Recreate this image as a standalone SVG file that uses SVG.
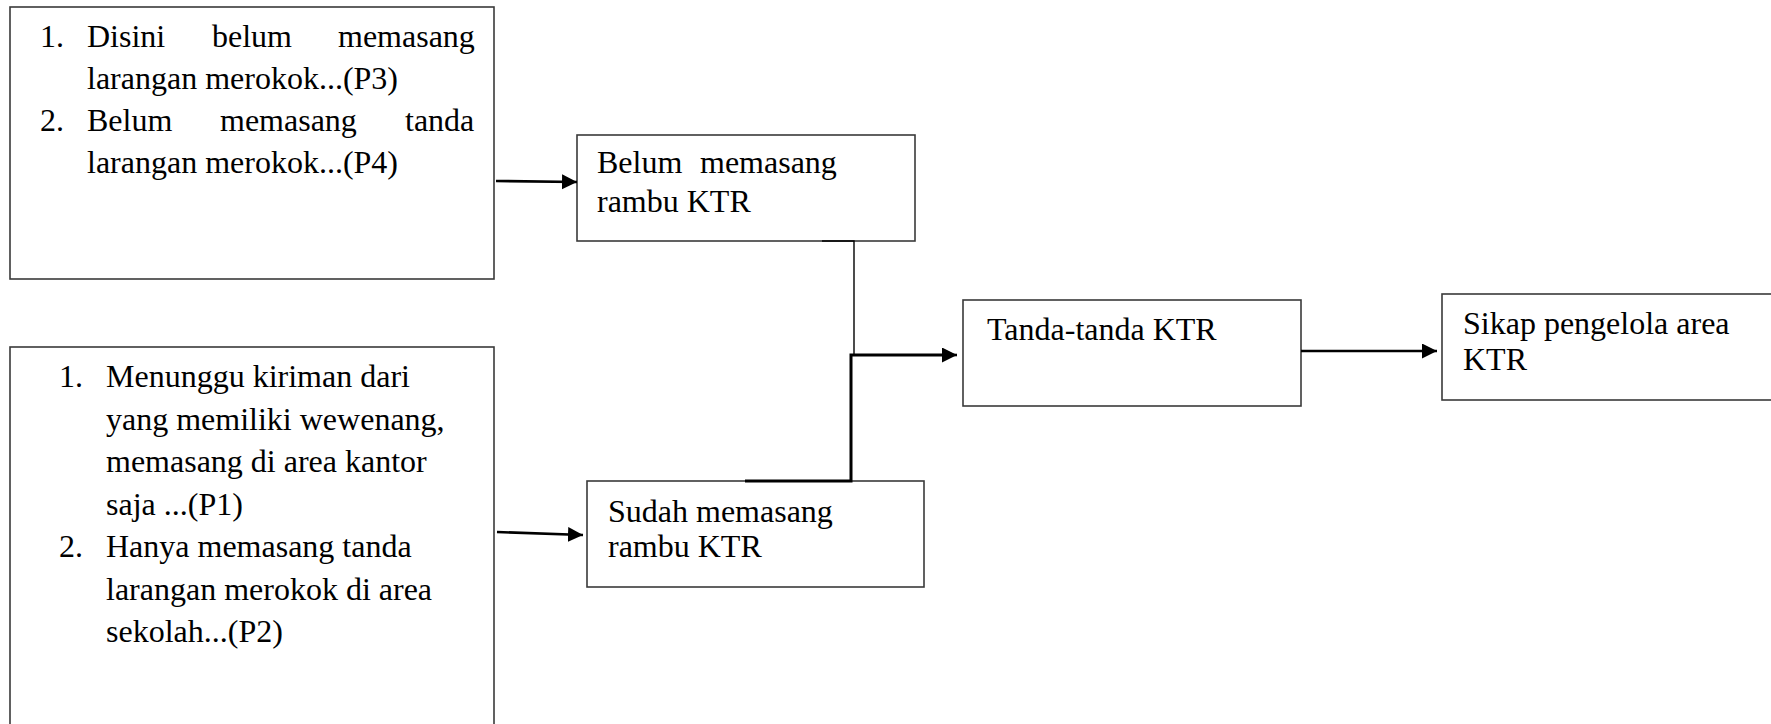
<svg xmlns="http://www.w3.org/2000/svg" width="1771" height="724" viewBox="0 0 1771 724">
  <style>
    .box { fill: #ffffff; stroke: #3a3a3a; stroke-width: 1.6; }
    .txt { font-family: "Liberation Serif", "Times New Roman", serif; font-size: 32px; fill: #000000; }
    .thin { fill: none; stroke: #000000; stroke-width: 1.4; }
    .thick { fill: none; stroke: #000000; stroke-width: 3; }
    .arrow { fill: none; stroke: #000000; stroke-width: 2.6; marker-end: url(#head); }
  </style>
  <defs>
    <marker id="head" markerUnits="userSpaceOnUse" markerWidth="16" markerHeight="16" refX="15" refY="7.5" orient="auto">
      <path d="M0,0 L15,7.5 L0,15 Z" fill="#000000"/>
    </marker>
  </defs>
  <rect width="1771" height="724" fill="#ffffff"/>

  <!-- source: not yet installed -->
  <g id="n-belum-list">
    <rect class="box" x="10" y="7" width="484" height="272"/>
    <text class="txt">
      <tspan x="40" y="47">1.</tspan><tspan x="87" y="47">Disini</tspan><tspan x="212" y="47">belum</tspan><tspan x="338" y="47">memasang</tspan>
      <tspan x="87" y="89">larangan merokok...(P3)</tspan>
      <tspan x="40" y="131">2.</tspan><tspan x="87" y="131">Belum</tspan><tspan x="220" y="131">memasang</tspan><tspan x="405" y="131">tanda</tspan>
      <tspan x="87" y="173">larangan merokok...(P4)</tspan>
    </text>
  </g>

  <!-- source: already installed -->
  <g id="n-sudah-list">
    <rect class="box" x="10" y="347" width="484" height="400"/>
    <text class="txt">
      <tspan x="59" y="387">1.</tspan><tspan x="106" y="387">Menunggu kiriman dari</tspan>
      <tspan x="106" y="429.5">yang memiliki wewenang,</tspan>
      <tspan x="106" y="472">memasang di area kantor</tspan>
      <tspan x="106" y="514.5">saja ...(P1)</tspan>
      <tspan x="59" y="557">2.</tspan><tspan x="106" y="557">Hanya memasang tanda</tspan>
      <tspan x="106" y="599.5">larangan merokok di area</tspan>
      <tspan x="106" y="642">sekolah...(P2)</tspan>
    </text>
  </g>

  <g id="n-belum">
    <rect class="box" x="577" y="135" width="338" height="106"/>
    <text class="txt">
      <tspan x="597" y="173">Belum</tspan><tspan x="700" y="173">memasang</tspan>
      <tspan x="597" y="212">rambu KTR</tspan>
    </text>
  </g>

  <g id="n-sudah">
    <rect class="box" x="587" y="481" width="337" height="106"/>
    <text class="txt">
      <tspan x="608" y="522">Sudah memasang</tspan>
      <tspan x="608" y="557">rambu KTR</tspan>
    </text>
  </g>

  <g id="n-tanda">
    <rect class="box" x="963" y="300" width="338" height="106"/>
    <text class="txt" x="987" y="340">Tanda-tanda KTR</text>
  </g>

  <g id="n-sikap">
    <rect class="box" x="1442" y="294" width="340" height="106"/>
    <text class="txt">
      <tspan x="1463" y="334">Sikap pengelola area</tspan>
      <tspan x="1463" y="370">KTR</tspan>
    </text>
  </g>

  <g id="connectors">
    <line class="arrow" x1="496" y1="181" x2="577" y2="182"/>
    <line class="arrow" x1="497" y1="532" x2="583" y2="535"/>
    <path class="thin" d="M822,241 H854 V355"/>
    <path class="thick" d="M745,481 H851 V355 H945"/>
    <line class="arrow" x1="945" y1="355" x2="957" y2="355"/>
    <line class="arrow" x1="1301" y1="351" x2="1437" y2="351"/>
  </g>
</svg>
